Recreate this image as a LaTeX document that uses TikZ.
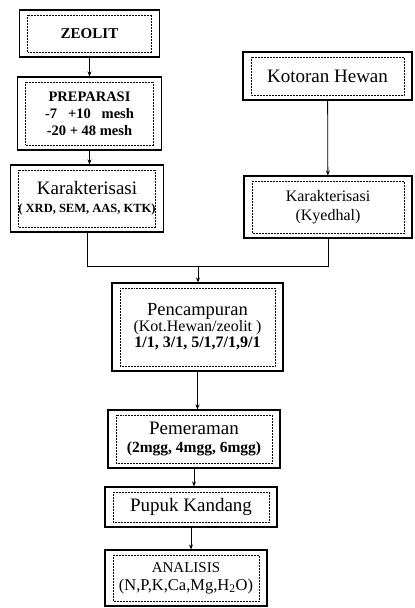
\documentclass[tikz,border=0pt]{standalone}
\usepackage{fontspec}
\setmainfont{Liberation Serif}
\usetikzlibrary{arrows.meta}

\begin{document}
\begin{tikzpicture}[x=1pt,y=-1pt,
  every node/.style={font=\fontsize{16}{18}\selectfont},
  dbox/.style={draw,line width=1.1pt,align=center,inner sep=0pt,
    path picture={\draw[line width=0.5pt,densely dotted]
      ([shift={(8pt,-5pt)}]path picture bounding box.north west) rectangle
      ([shift={(-8pt,5pt)}]path picture bounding box.south east);}},
  arr/.style={-{Stealth[length=5pt,width=4pt]},line width=0.8pt}]
\useasboundingbox (0,0) rectangle (415,608);
\node[dbox,minimum width=140pt,minimum height=47pt,font=\bfseries\fontsize{15}{17}\selectfont] (zeolit) at (89.5,33.5) {ZEOLIT};
\node[dbox,minimum width=144pt,minimum height=73pt,font=\bfseries\fontsize{14.5}{17}\selectfont] (prep) at (89.5,113.5) {PREPARASI\\-7\ \ \ +10\ \ \ mesh\\-20 + 48 mesh};
\node[dbox,minimum width=153pt,minimum height=67pt] (kar1) at (87,198.5) {{\fontsize{19}{22}\selectfont Karakterisasi}\\{\bfseries\fontsize{12.5}{15}\selectfont ( XRD, SEM, AAS, KTK)}};
\node[dbox,minimum width=169pt,minimum height=48pt,font=\fontsize{19}{22}\selectfont] (kotoran) at (327.5,76) {Kotoran Hewan};
\node[dbox,minimum width=168pt,minimum height=62pt,font=\fontsize{16}{20}\selectfont] (kar2) at (328,207) {Karakterisasi\\[-1pt](Kyedhal)};
\node[dbox,minimum width=171pt,minimum height=88pt] (campur) at (197.5,327) {{\fontsize{18.5}{18}\selectfont Pencampuran}\\[-2pt]{\fontsize{16}{18}\selectfont (Kot.Hewan/zeolit )}\\[-2pt]{\bfseries\fontsize{16}{18}\selectfont 1/1, 3/1, 5/1,7/1,9/1}};
\node[dbox,minimum width=172pt,minimum height=58pt] (peram) at (194,439) {{\fontsize{19}{21}\selectfont Pemeraman}\\{\bfseries\fontsize{15.5}{17}\selectfont (2mgg, 4mgg, 6mgg)}};
\node[dbox,minimum width=172pt,minimum height=40pt,font=\fontsize{19}{22}\selectfont] (pupuk) at (191,507) {Pupuk Kandang};
\node[dbox,minimum width=162pt,minimum height=56pt] (analisis) at (186,578) {{\fontsize{15}{18}\selectfont ANALISIS}\\{\fontsize{16.5}{19}\selectfont (N,P,K,Ca,Mg,H\textsubscript{2}O)}};
\coordinate (join) at (198,266);
\draw[arr] (zeolit) -- (prep);
\draw[arr] (prep.south) -- (prep.south |- kar1.north);
\draw[arr] (kotoran) -- (kar2);
\draw[line width=0.8pt] (kar1.south) |- (join);
\draw[line width=0.8pt] (kar2.south) |- (join);
\draw[arr] (join) -- (join |- campur.north);
\draw[arr] (campur.south) -- (campur.south |- peram.north);
\draw[arr] (peram.south) -- (peram.south |- pupuk.north);
\draw[arr] (pupuk.south) -- (pupuk.south |- analisis.north);
\end{tikzpicture}
\end{document}
